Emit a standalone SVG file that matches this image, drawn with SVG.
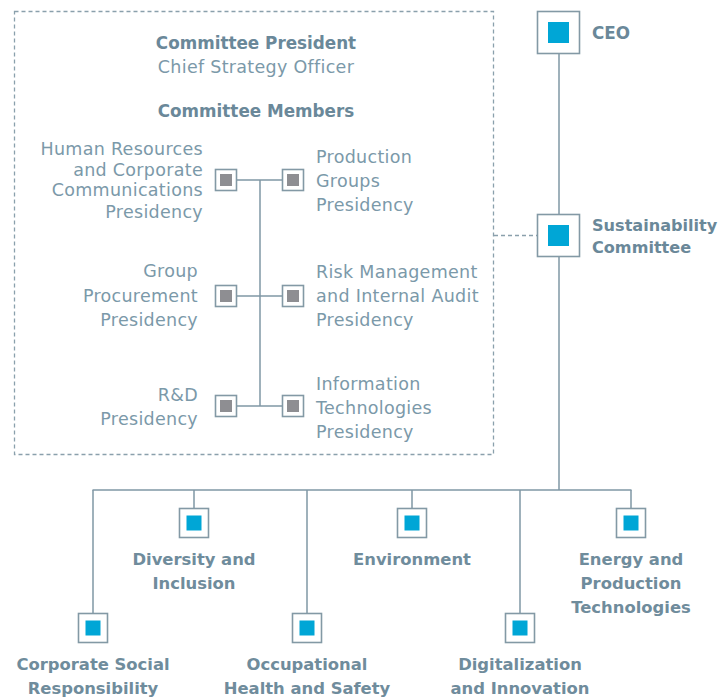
<svg xmlns="http://www.w3.org/2000/svg" width="720" height="698" viewBox="0 0 720 698">
<style>
.b{font-family:"DejaVu Sans",sans-serif;font-weight:bold;font-size:16.8px;fill:#6a8899}
.s{font-family:"DejaVu Sans",sans-serif;font-weight:bold;font-size:16.1px;fill:#6a8899}
.l{font-family:"DejaVu Sans",sans-serif;font-weight:bold;font-size:16.4px;fill:#6f8c9c}
.n{font-family:"DejaVu Sans",sans-serif;font-size:17.5px;letter-spacing:0.3px;fill:#7b99a9}
.ln{stroke:#7f97a4;stroke-width:1.5;fill:none}
.ds{stroke:#8aa0ac;stroke-width:1.3;fill:none;stroke-dasharray:4 3}
.bx{fill:#fff;stroke:#8399a5;stroke-width:1.6}
.bl{fill:#00a6d6}
.gr{fill:#8e8e92}
</style>
<rect id="committee-frame" class="ds" x="14.5" y="11.5" width="479" height="443"/>
<g id="connectors">
<line class="ln" x1="559" y1="53" x2="559" y2="214"/>
<line class="ds" x1="494" y1="235.5" x2="537" y2="235.5"/>
<line class="ln" x1="559" y1="256" x2="559" y2="490"/>
<line class="ln" x1="92.5" y1="490" x2="631.5" y2="490"/>
<line class="ln" x1="93" y1="490" x2="93" y2="613"/>
<line class="ln" x1="194" y1="490" x2="194" y2="508"/>
<line class="ln" x1="307" y1="490" x2="307" y2="613"/>
<line class="ln" x1="412" y1="490" x2="412" y2="508"/>
<line class="ln" x1="520" y1="490" x2="520" y2="613"/>
<line class="ln" x1="631" y1="490" x2="631" y2="508"/>
<line class="ln" x1="260" y1="180" x2="260" y2="406"/>
<line class="ln" x1="237" y1="180" x2="282" y2="180"/>
<line class="ln" x1="237" y1="296" x2="282" y2="296"/>
<line class="ln" x1="237" y1="406" x2="282" y2="406"/>
</g>
<g id="ceo">
<rect class="bx" x="537.5" y="11.5" width="42" height="42"/>
<rect class="bl" x="548" y="22" width="21" height="21"/>
<text class="b" x="592" y="39">CEO</text>
</g>
<g id="sustainability-committee">
<rect class="bx" x="537.5" y="214.5" width="42" height="42"/>
<rect class="bl" x="548" y="225" width="21" height="21"/>
<text class="s" x="592" y="231">Sustainability</text>
<text class="s" x="592" y="253">Committee</text>
</g>
<g id="committee-head" text-anchor="middle">
<text class="b" x="256" y="49">Committee President</text>
<text class="n" x="256" y="73">Chief Strategy Officer</text>
<text class="b" x="256" y="117">Committee Members</text>
</g>
<g id="hr">
<rect class="bx" x="215.5" y="169.5" width="21" height="21"/>
<rect class="gr" x="220" y="174" width="12" height="12"/>
<text class="n" text-anchor="end" x="203" y="155">Human Resources</text>
<text class="n" text-anchor="end" x="203" y="176">and Corporate</text>
<text class="n" text-anchor="end" x="203" y="196">Communications</text>
<text class="n" text-anchor="end" x="203" y="218">Presidency</text>
</g>
<g id="production">
<rect class="bx" x="282.5" y="169.5" width="21" height="21"/>
<rect class="gr" x="287" y="174" width="12" height="12"/>
<text class="n" x="316" y="163">Production</text>
<text class="n" x="316" y="187">Groups</text>
<text class="n" x="316" y="211">Presidency</text>
</g>
<g id="procurement">
<rect class="bx" x="215.5" y="285.5" width="21" height="21"/>
<rect class="gr" x="220" y="290" width="12" height="12"/>
<text class="n" text-anchor="end" x="198" y="277">Group</text>
<text class="n" text-anchor="end" x="198" y="302">Procurement</text>
<text class="n" text-anchor="end" x="198" y="326">Presidency</text>
</g>
<g id="risk">
<rect class="bx" x="282.5" y="285.5" width="21" height="21"/>
<rect class="gr" x="287" y="290" width="12" height="12"/>
<text class="n" x="316" y="278">Risk Management</text>
<text class="n" x="316" y="302">and Internal Audit</text>
<text class="n" x="316" y="326">Presidency</text>
</g>
<g id="rnd">
<rect class="bx" x="215.5" y="395.5" width="21" height="21"/>
<rect class="gr" x="220" y="400" width="12" height="12"/>
<text class="n" text-anchor="end" x="198" y="401">R&amp;D</text>
<text class="n" text-anchor="end" x="198" y="425">Presidency</text>
</g>
<g id="it">
<rect class="bx" x="282.5" y="395.5" width="21" height="21"/>
<rect class="gr" x="287" y="400" width="12" height="12"/>
<text class="n" x="316" y="390">Information</text>
<text class="n" x="316" y="414">Technologies</text>
<text class="n" x="316" y="438">Presidency</text>
</g>
<g id="diversity" text-anchor="middle">
<rect class="bx" x="179.5" y="508.5" width="29" height="29"/>
<rect class="bl" x="186.5" y="515.5" width="15" height="15"/>
<text class="l" x="194" y="565">Diversity and</text>
<text class="l" x="194" y="589">Inclusion</text>
</g>
<g id="environment" text-anchor="middle">
<rect class="bx" x="397.5" y="508.5" width="29" height="29"/>
<rect class="bl" x="404.5" y="515.5" width="15" height="15"/>
<text class="l" x="412" y="565">Environment</text>
</g>
<g id="energy" text-anchor="middle">
<rect class="bx" x="616.5" y="508.5" width="29" height="29"/>
<rect class="bl" x="623.5" y="515.5" width="15" height="15"/>
<text class="l" x="631" y="565">Energy and</text>
<text class="l" x="631" y="589">Production</text>
<text class="l" x="631" y="613">Technologies</text>
</g>
<g id="csr" text-anchor="middle">
<rect class="bx" x="78.5" y="613.5" width="29" height="29"/>
<rect class="bl" x="85.5" y="620.5" width="15" height="15"/>
<text class="l" x="93" y="670">Corporate Social</text>
<text class="l" x="93" y="694">Responsibility</text>
</g>
<g id="ohs" text-anchor="middle">
<rect class="bx" x="292.5" y="613.5" width="29" height="29"/>
<rect class="bl" x="299.5" y="620.5" width="15" height="15"/>
<text class="l" x="307" y="670">Occupational</text>
<text class="l" x="307" y="694">Health and Safety</text>
</g>
<g id="digital" text-anchor="middle">
<rect class="bx" x="505.5" y="613.5" width="29" height="29"/>
<rect class="bl" x="512.5" y="620.5" width="15" height="15"/>
<text class="l" x="520" y="670">Digitalization</text>
<text class="l" x="520" y="694">and Innovation</text>
</g>
</svg>
